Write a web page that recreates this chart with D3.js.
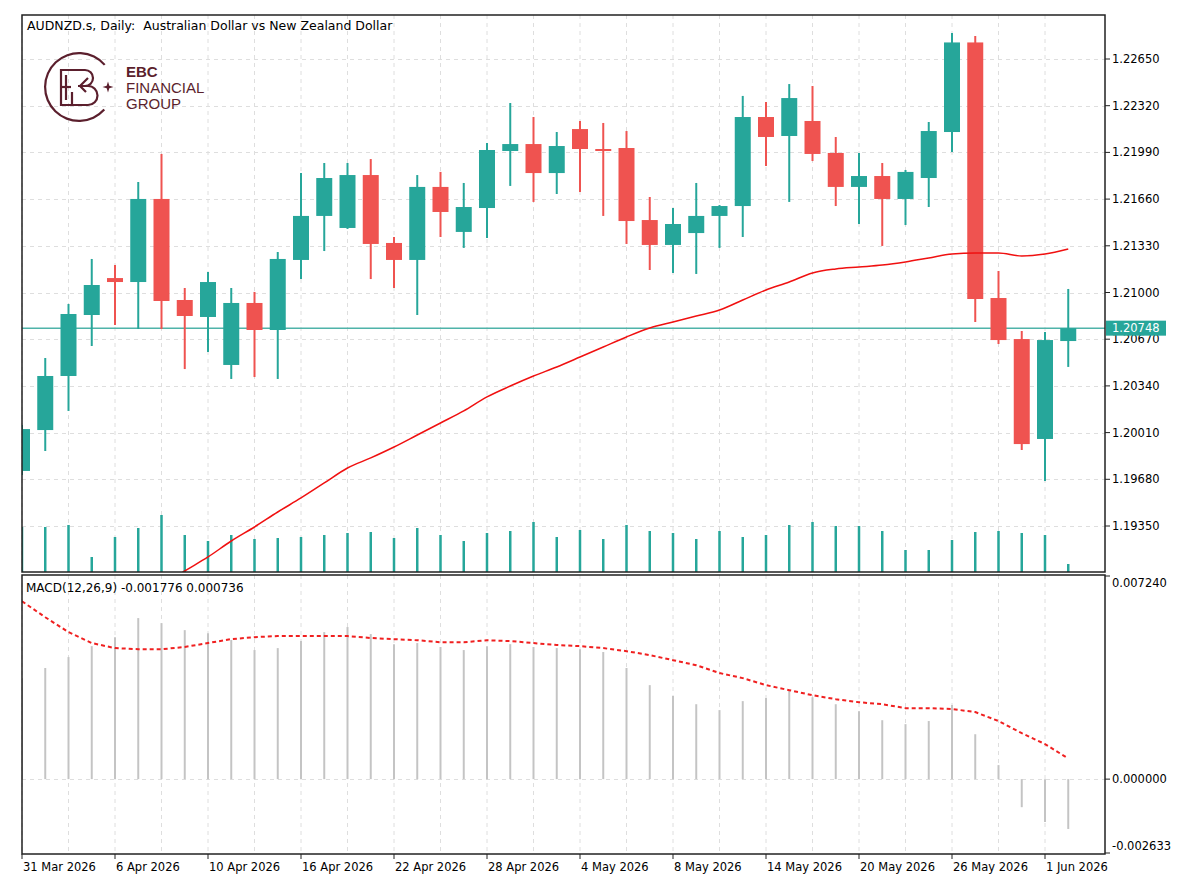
<!DOCTYPE html>
<html>
<head>
<meta charset="utf-8">
<script src="https://cdn.jsdelivr.net/npm/d3@7"></script>
<style>
  body { margin: 0; background: #fff; }
  text { font-family: "DejaVu Sans", sans-serif; font-size: 11.5px; fill: #000; }
</style>
</head>
<body>
<div id="chart"></div>
<script>
// trading days shown on the chart
const dates = ['2026-03-31','2026-04-01','2026-04-02','2026-04-03','2026-04-06','2026-04-07','2026-04-08','2026-04-09',
  '2026-04-10','2026-04-13','2026-04-14','2026-04-15','2026-04-16','2026-04-17','2026-04-20','2026-04-21',
  '2026-04-22','2026-04-23','2026-04-24','2026-04-27','2026-04-28','2026-04-29','2026-04-30','2026-05-01',
  '2026-05-04','2026-05-05','2026-05-06','2026-05-07','2026-05-08','2026-05-11','2026-05-12','2026-05-13',
  '2026-05-14','2026-05-15','2026-05-18','2026-05-19','2026-05-20','2026-05-21','2026-05-22','2026-05-25',
  '2026-05-26','2026-05-27','2026-05-28','2026-05-29','2026-06-01','2026-06-02'];

const open = [1.19739, 1.20028, 1.20410, 1.20841, 1.21102, 1.21074, 1.21661, 1.20947, 1.20827, 1.20488, 1.20926, 1.20735,
  1.21230, 1.21541, 1.21456, 1.21830, 1.21350, 1.21230, 1.21746, 1.21428, 1.21597, 1.22000, 1.22049, 1.21844,
  1.22155, 1.22014, 1.22021, 1.21512, 1.21336, 1.21420, 1.21541, 1.21611, 1.22240, 1.22106, 1.22212, 1.21986,
  1.21746, 1.21823, 1.21661, 1.21809, 1.22134, 1.22767, 1.20961, 1.20671, 1.19965, 1.20657];
const high = [1.20064, 1.20537, 1.20919, 1.21237, 1.21194, 1.21781, 1.21979, 1.21032, 1.21145, 1.21032, 1.21004, 1.21286,
  1.21844, 1.21915, 1.21915, 1.21943, 1.21392, 1.21830, 1.21852, 1.21774, 1.22056, 1.22339, 1.22240, 1.22134,
  1.22212, 1.22198, 1.22141, 1.21675, 1.21597, 1.21774, 1.21618, 1.22389, 1.22346, 1.22473, 1.22459, 1.22099,
  1.21986, 1.21915, 1.21866, 1.22205, 1.22834, 1.22813, 1.21152, 1.20728, 1.20721, 1.21025];
const low = [1.19710, 1.19880, 1.20163, 1.20622, 1.20770, 1.20742, 1.20742, 1.20459, 1.20580, 1.20389, 1.20403, 1.20389,
  1.21095, 1.21293, 1.21449, 1.21095, 1.21032, 1.20841, 1.21392, 1.21315, 1.21385, 1.21753, 1.21640, 1.21696,
  1.21710, 1.21541, 1.21343, 1.21159, 1.21138, 1.21131, 1.21315, 1.21392, 1.21894, 1.21640, 1.21929, 1.21611,
  1.21484, 1.21329, 1.21477, 1.21604, 1.21993, 1.20792, 1.20636, 1.19887, 1.19668, 1.20474];
const close = [1.20035, 1.20410, 1.20848, 1.21053, 1.21074, 1.21661, 1.20940, 1.20834, 1.21074, 1.20926, 1.20735, 1.21237,
  1.21541, 1.21809, 1.21830, 1.21343, 1.21230, 1.21746, 1.21569, 1.21604, 1.22007, 1.22049, 1.21844, 1.22035,
  1.22014, 1.22007, 1.21505, 1.21336, 1.21484, 1.21541, 1.21611, 1.22240, 1.22099, 1.22374, 1.21979, 1.21746,
  1.21823, 1.21661, 1.21852, 1.22141, 1.22767, 1.20954, 1.20664, 1.19929, 1.20664, 1.20748];
const volume = [45000, 45000, 47000, 15000, 35000, 44000, 57000, 37000, 31000, 37000, 33000, 34000,
  35000, 37000, 39000, 40000, 34000, 44000, 37000, 31000, 39000, 41000, 50000, 35000,
  42000, 33000, 47000, 41000, 39000, 33000, 41000, 35000, 37000, 47000, 50000, 46000,
  46000, 41000, 22000, 22000, 32000, 40000, 41000, 39000, 37000, 8000];
// moving average drawn in red
const ma = [1.18311, 1.18417, 1.18516, 1.18622, 1.18721, 1.18827, 1.18929, 1.19032, 1.19131, 1.19244, 1.19343, 1.19449,
  1.19548, 1.19654, 1.19760, 1.19831, 1.19908, 1.19993, 1.20078, 1.20163, 1.20262, 1.20339, 1.20410, 1.20474,
  1.20544, 1.20615, 1.20686, 1.20749, 1.20792, 1.20834, 1.20876, 1.20947, 1.21018, 1.21074, 1.21138, 1.21166,
  1.21180, 1.21194, 1.21216, 1.21244, 1.21272, 1.21279, 1.21279, 1.21258, 1.21272, 1.21307];
// MACD(12,26,9)
const macdHist = [0.00360, 0.00396, 0.00435, 0.00474, 0.00506, 0.00574, 0.00556, 0.00531, 0.00520, 0.00496, 0.00460, 0.00467,
  0.00492, 0.00524, 0.00542, 0.00517, 0.00481, 0.00485, 0.00471, 0.00460, 0.00474, 0.00481, 0.00471, 0.00467,
  0.00463, 0.00453, 0.00396, 0.00335, 0.00296, 0.00267, 0.00246, 0.00278, 0.00289, 0.00314, 0.00292, 0.00267,
  0.00242, 0.00210, 0.00196, 0.00207, 0.00264, 0.00160, 0.00050, -0.00100, -0.00153, -0.001776];
const macdSignal = [0.00634, 0.00577, 0.00524, 0.00485, 0.00467, 0.00463, 0.00463, 0.00471, 0.00485, 0.00499, 0.00506, 0.00510,
  0.00510, 0.00510, 0.00510, 0.00503, 0.00499, 0.00495, 0.00488, 0.00488, 0.00495, 0.00492, 0.00485, 0.00478,
  0.00474, 0.00467, 0.00456, 0.00442, 0.00424, 0.00406, 0.00378, 0.00360, 0.00335, 0.00317, 0.00299, 0.00285,
  0.00274, 0.00267, 0.00253, 0.00253, 0.00250, 0.00239, 0.00207, 0.00164, 0.00125, 0.000736];

const priceTicks = [1.2265, 1.2232, 1.2199, 1.2166, 1.2133, 1.2100, 1.2067, 1.2034, 1.2001, 1.1968, 1.1935];
const macdTicks = [0.00724, 0, -0.002633];
const lastPrice = 1.20748;
const title = 'AUDNZD.s, Daily:  Australian Dollar vs New Zealand Dollar';

const width = 1200;
const height = 896;
const left = 22, right = 1105;
const mainTop = 15, mainBottom = 572;
const macdTop = 575, macdBottom = 854;

const teal = '#26a69a';
const red = '#ef5350';
const gridColor = '#dedede';

const parse = d3.timeParse('%Y-%m-%d');
const fmtDate = d3.timeFormat('%-d %b %Y');
const fmt6 = v => v.toFixed(6); // plain hyphen minus, as in the terminal

const bars = dates.map((d, i) => ({
  i, date: parse(d), o: open[i], h: high[i], l: low[i], c: close[i],
  v: volume[i], ma: ma[i], hist: macdHist[i], sig: macdSignal[i]
}));

const x = d3.scaleLinear().domain([0, bars.length - 1]).range([22, 1068.25]);
const y = d3.scaleLinear().domain([1.1935, 1.2265]).range([526, 59]);
const yVol = d3.scaleLinear().domain([0, 60000]).range([mainBottom, mainBottom - 60]);
const yMacd = d3.scaleLinear().domain([-0.002633, 0.00724]).range([853, 576]);

const svg = d3.select('#chart').append('svg').attr('width', width).attr('height', height);

svg.append('defs').call(defs => {
  defs.append('clipPath').attr('id', 'clipMain')
    .append('rect').attr('x', left).attr('y', mainTop).attr('width', right - left).attr('height', mainBottom - mainTop);
  defs.append('clipPath').attr('id', 'clipMacd')
    .append('rect').attr('x', left).attr('y', macdTop).attr('width', right - left).attr('height', macdBottom - macdTop);
});

// ---- grid ----
const gridIdx = bars.filter(d => d.i % 2 === 0).map(d => d.i);
const grid = svg.append('g').attr('stroke', gridColor).attr('stroke-dasharray', '4,4').attr('stroke-width', 1);
grid.selectAll('line.vmain').data(gridIdx).join('line').attr('class', 'vmain')
  .attr('x1', d => x(d)).attr('x2', d => x(d)).attr('y1', mainTop).attr('y2', mainBottom);
grid.selectAll('line.vmacd').data(gridIdx).join('line').attr('class', 'vmacd')
  .attr('x1', d => x(d)).attr('x2', d => x(d)).attr('y1', macdTop).attr('y2', macdBottom);
grid.selectAll('line.h').data(priceTicks).join('line').attr('class', 'h')
  .attr('x1', left).attr('x2', right).attr('y1', d => Math.round(y(d)) + 0.5).attr('y2', d => Math.round(y(d)) + 0.5);
grid.append('line').attr('x1', left).attr('x2', right)
  .attr('y1', Math.round(yMacd(0)) + 0.5).attr('y2', Math.round(yMacd(0)) + 0.5);

// ---- main panel ----
const main = svg.append('g').attr('clip-path', 'url(#clipMain)');

main.selectAll('line.vol').data(bars).join('line').attr('class', 'vol')
  .attr('x1', d => x(d.i)).attr('x2', d => x(d.i))
  .attr('y1', yVol(0)).attr('y2', d => yVol(d.v))
  .attr('stroke', teal).attr('stroke-width', 2.5);

main.append('line')
  .attr('x1', left).attr('x2', right)
  .attr('y1', y(lastPrice)).attr('y2', y(lastPrice))
  .attr('stroke', '#4fb3a9').attr('stroke-width', 1.5);

const candles = main.selectAll('g.candle').data(bars).join('g').attr('class', 'candle');
candles.append('line')
  .attr('x1', d => x(d.i)).attr('x2', d => x(d.i))
  .attr('y1', d => y(d.h)).attr('y2', d => y(d.l))
  .attr('stroke', d => d.c >= d.o ? teal : red).attr('stroke-width', 2);
candles.append('rect')
  .attr('x', d => x(d.i) - 8).attr('width', 16)
  .attr('y', d => y(Math.max(d.o, d.c)))
  .attr('height', d => Math.max(2, Math.abs(y(d.o) - y(d.c))))
  .attr('fill', d => d.c >= d.o ? teal : red);

main.append('path').datum(bars)
  .attr('fill', 'none').attr('stroke', '#f01010').attr('stroke-width', 1.5)
  .attr('d', d3.line().curve(d3.curveMonotoneX).x(d => x(d.i)).y(d => y(d.ma)));

// ---- MACD panel ----
const macd = svg.append('g').attr('clip-path', 'url(#clipMacd)');
macd.selectAll('line.hist').data(bars).join('line').attr('class', 'hist')
  .attr('x1', d => x(d.i)).attr('x2', d => x(d.i))
  .attr('y1', yMacd(0)).attr('y2', d => yMacd(d.hist))
  .attr('stroke', '#c4c4c4').attr('stroke-width', 2);
macd.append('path').datum(bars)
  .attr('fill', 'none').attr('stroke', '#f02020').attr('stroke-width', 2)
  .attr('stroke-dasharray', '4,3')
  .attr('d', d3.line().x(d => x(d.i)).y(d => yMacd(d.sig)));

// ---- frames ----
const frame = svg.append('g').attr('fill', 'none').attr('stroke', '#222').attr('stroke-width', 1.5);
frame.append('rect').attr('x', left).attr('y', mainTop).attr('width', right - left).attr('height', mainBottom - mainTop);
frame.append('rect').attr('x', left).attr('y', macdTop).attr('width', right - left).attr('height', macdBottom - macdTop);

// ---- right axes ----
const axisG = svg.append('g');
axisG.selectAll('line.pt').data(priceTicks).join('line').attr('class', 'pt')
  .attr('x1', right).attr('x2', right + 5).attr('y1', d => y(d)).attr('y2', d => y(d))
  .attr('stroke', '#222');
axisG.selectAll('text.pt').data(priceTicks).join('text').attr('class', 'pt')
  .attr('x', right + 7).attr('y', d => y(d)).attr('dy', '0.35em')
  .text(d => d3.format('.5f')(d));

// current price tag sits on top of the nearby tick label, like the terminal does
axisG.append('rect')
  .attr('x', right + 1).attr('y', y(lastPrice) - 7.5).attr('width', 60).attr('height', 15)
  .attr('fill', teal);
axisG.append('text')
  .attr('x', right + 7).attr('y', y(lastPrice)).attr('dy', '0.35em')
  .style('fill', '#fff').text(d3.format('.5f')(lastPrice));

axisG.selectAll('line.mt').data(macdTicks).join('line').attr('class', 'mt')
  .attr('x1', right).attr('x2', right + 5).attr('y1', d => yMacd(d)).attr('y2', d => yMacd(d))
  .attr('stroke', '#222');
axisG.selectAll('text.mt').data(macdTicks).join('text').attr('class', 'mt')
  .attr('x', right + 7)
  .attr('y', (d, i) => yMacd(d) + (i === 0 ? 7 : i === 2 ? -7 : 0)).attr('dy', '0.35em')
  .text(d => fmt6(d));

// ---- date axis ----
const dateIdx = bars.filter(d => d.i % 4 === 0);
axisG.selectAll('line.dt').data(dateIdx).join('line').attr('class', 'dt')
  .attr('x1', d => x(d.i)).attr('x2', d => x(d.i)).attr('y1', macdBottom).attr('y2', macdBottom + 5)
  .attr('stroke', '#222');
axisG.selectAll('text.dt').data(dateIdx).join('text').attr('class', 'dt')
  .attr('x', d => x(d.i) + 1).attr('y', 871)
  .text(d => fmtDate(d.date));

// ---- labels ----
svg.append('text').attr('x', 27).attr('y', 30)
  .style('white-space', 'pre').style('font-size', '12.5px').text(title);
svg.append('text').attr('x', 26).attr('y', 592).style('font-size', '12px')
  .text(`MACD(12,26,9) ${fmt6(macdHist[macdHist.length - 1])} ${fmt6(macdSignal[macdSignal.length - 1])}`);

// ---- logo ----
const maroon = '#5b1f2d';
const logo = svg.append('g');
logo.append('path')
  .attr('transform', 'translate(79,87)')
  .attr('fill', maroon)
  .attr('d', d3.arc()({ innerRadius: 32.8, outerRadius: 35, startAngle: 2.3, endAngle: 2 * Math.PI + 0.86 }));
const glyph = logo.append('g').attr('fill', 'none').attr('stroke', maroon).attr('stroke-width', 2.2);
glyph.append('path').attr('d', 'M77,70 H61 V105 H80');
glyph.append('path').attr('d', 'M66,75 V100');
glyph.append('path').attr('d', 'M61,87 H71');
glyph.append('path').attr('d', 'M72,70 H85 A8,8 0 0 1 85,86 H78');
glyph.append('path').attr('d', 'M80,86 H88 A9.5,9.5 0 0 1 88,105 H72 V92');
glyph.append('path').attr('d', 'M88,78 L80,86 L86,92');
logo.append('path').attr('fill', maroon)
  .attr('d', 'M108,81.5 L109.3,85.7 L113.5,87 L109.3,88.3 L108,92.5 L106.7,88.3 L102.5,87 L106.7,85.7 Z');
const logoWords = ['EBC', 'FINANCIAL', 'GROUP'];
logo.selectAll('text.logo').data(logoWords).join('text').attr('class', 'logo')
  .attr('x', 126).attr('y', (d, i) => 77 + i * 16)
  .style('font-family', '"Liberation Sans", sans-serif').style('font-size', '15px')
  .style('font-weight', (d, i) => i === 0 ? 'bold' : 'normal')
  .style('fill', maroon)
  .text(d => d);
</script>
</body>
</html>
